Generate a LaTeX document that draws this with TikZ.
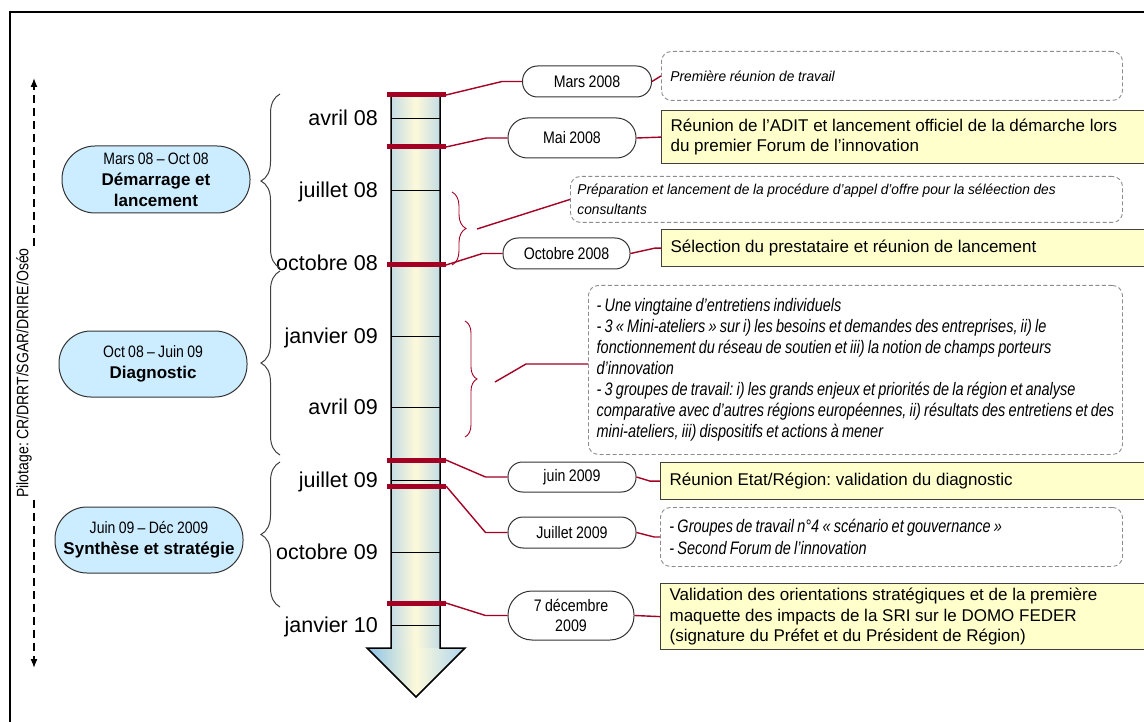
\documentclass[tikz,border=0pt]{standalone}
\usepackage{fontspec}
\setmainfont{Liberation Sans}
\newfontfamily\narrowsans[FakeStretch=0.85, WordSpace=0.85]{Liberation Sans}
\newfontfamily\notesans[FakeStretch=0.96, WordSpace=0.96]{Liberation Sans}
\newfontfamily\listsans[FakeStretch=0.8, WordSpace=0.8]{Liberation Sans}
\usetikzlibrary{calc,decorations.pathreplacing,arrows.meta}
\frenchspacing

\definecolor{phaseblue}{RGB}{204,236,255}
\definecolor{noteyellow}{RGB}{255,255,204}
\definecolor{markred}{RGB}{163,0,35}
\definecolor{shaftedge}{RGB}{196,220,228}
\definecolor{shaftmid}{RGB}{253,249,218}
\definecolor{headedge}{RGB}{138,194,232}
\definecolor{dashgray}{RGB}{140,140,140}

\begin{document}
\begin{tikzpicture}[x=1pt,y=-1pt,
  phase/.style={draw=black!80, line width=1pt, fill=phaseblue, rounded corners=32pt,
    minimum width=188pt, minimum height=66pt, inner sep=0pt, align=center,
    font=\fontsize{17}{21}\selectfont},
  datebox/.style={draw=black!80, line width=1pt, fill=white, inner sep=0pt, align=center,
    minimum width=128pt, font=\narrowsans\fontsize{16.7}{20}\selectfont},
  note/.style={draw=dashgray, dash pattern=on 4pt off 2.5pt, line width=0.9pt,
    rounded corners=10pt, anchor=north west, inner xsep=9pt, inner ysep=0pt, align=flush left,
    font=\notesans\itshape\fontsize{14.3}{20}\selectfont},
  listfont/.style={font=\listsans\itshape\fontsize{18.1}{#1}\selectfont},
  yellowbox/.style={draw=black!75, line width=1.2pt, fill=noteyellow, anchor=north west,
    inner xsep=9pt, inner ysep=0pt, align=flush left, minimum width=520pt, text width=502pt,
    font=\fontsize{17}{20.5}\selectfont},
  month/.style={anchor=base east, inner sep=0pt, font=\fontsize{21.5}{24}\selectfont},
  conn/.style={markred, line width=1.4pt},
  phasebrace/.style={draw=black!75, line width=1pt, decorate,
    decoration={brace, amplitude=19pt}},
  smallbrace/.style={draw=markred, line width=0.9pt, decorate,
    decoration={brace, amplitude=#1}},
  pilotline/.style={line width=1.3pt, dash pattern=on 8pt off 5pt,
    -{Latex[length=9pt,width=7pt]}}
]
\useasboundingbox (0,0) rectangle (1144,722);
\clip (0,0) rectangle (1144,722);

% outer frame
\draw[line width=2pt] (10,12) rectangle (1200,760);

% steering line on the left
\node[rotate=90, inner sep=2pt, font=\narrowsans\fontsize{16.5}{20}\selectfont]
  (pilot) at (24,373) {Pilotage: CR/DRRT/SGAR/DRIRE/Oséo};
\coordinate (ptop) at (34,78);
\coordinate (pbot) at (34,668);
\draw[pilotline] (pilot.south east -| ptop) -- (ptop);
\draw[pilotline] (pilot.south west -| pbot) -- (pbot);

% time arrow
\shade[left color=shaftedge, right color=shaftedge, middle color=shaftmid]
  (391,95) rectangle (440,648);
\shade[left color=headedge, right color=headedge!70!white, middle color=shaftmid]
  (367,648) -- (465,648) -- (416,697) -- cycle;
\draw[line width=1.5pt, line join=miter]
  (391,95) -- (391,648) -- (367,648) -- (416,697) -- (465,648) -- (440,648) -- (440,95) -- cycle;

% month ticks and labels
\foreach \y/\t [count=\i] in {119/avril 08, 191/juillet 08, 263.5/octobre 08,
    336/janvier 09, 407.5/avril 09, 480/juillet 09, 552/octobre 09, 625/janvier 10}{
  \draw[line width=1pt] (391,\y) -- (440,\y);
  \node[month] (m\i) at (378,\y+7) {\t};
}

% event markers
\foreach \y/\n in {95/r1, 147/r2, 265/r3, 460/r4, 486/r5, 603/r6}{
  \draw[markred, line width=5pt] (387,\y) -- (446,\y);
  \coordinate (\n) at (446,\y);
}

% phase braces
\draw[phasebrace] (280,268) -- (280,94);
\draw[phasebrace] (280,455) -- (280,271);
\draw[phasebrace] (280,607) -- (280,462);

% phases
\node[phase, minimum height=67pt, rounded corners=33pt] (p1) at (156,179.5)
  {{\narrowsans\fontsize{16.5}{21}\selectfont Mars 08 – Oct 08}\\\textbf{Démarrage et}\\\textbf{lancement}};
\node[phase] (p2) at (153,364)
  {{\narrowsans\fontsize{16.5}{21}\selectfont Oct 08 – Juin 09}\\\textbf{Diagnostic}};
\node[phase] (p3) at (149,540)
  {{\narrowsans\fontsize{16.5}{21}\selectfont Juin 09 – Déc 2009}\\\textbf{Synthèse et stratégie}};

% dates
\node[datebox, minimum width=129pt, minimum height=31pt, rounded corners=15pt] (d1) at (587,81.5) {Mars 2008};
\node[datebox, minimum height=40pt, rounded corners=19.5pt] (d2) at (572,138) {Mai 2008};
\node[datebox, minimum width=127pt, minimum height=31pt, rounded corners=15pt] (d3) at (566.5,253.5) {Octobre 2008};
\node[datebox, minimum height=30pt, rounded corners=14.5pt] (d4) at (572,477) {juin 2009};
\node[datebox, minimum height=31pt, rounded corners=15pt] (d5) at (572,532.5) {Juillet 2009};
\node[datebox, minimum width=126pt, minimum height=49pt, rounded corners=24pt] (d6) at (571,615.5) {7 décembre\\2009};

% descriptions
\node[note, minimum width=461pt, minimum height=49pt, text width=443pt] (t1) at (661,51)
  {Première réunion de travail};
\node[yellowbox, minimum height=53pt] (y1) at (661,110)
  {Réunion de l’ADIT et lancement officiel de la démarche lors\\du premier Forum de l’innovation};
\node[note, minimum width=552pt, minimum height=46pt, text width=538pt, inner xsep=7pt] (t2) at (570,176)
  {Préparation et lancement de la procédure d’appel d’offre pour la séléection des\\consultants};
\node[yellowbox, minimum height=37pt] (y2) at (661,229)
  {Sélection du prestataire et réunion de lancement};
\node[note, minimum width=534pt, minimum height=169pt, inner xsep=0pt,
  listfont=21] (t3) at (588,285)
  {- Une vingtaine d’entretiens individuels\\
   - 3 « Mini-ateliers » sur i) les besoins et demandes des entreprises, ii) le\\
   fonctionnement du réseau de soutien et iii) la notion de champs porteurs\\
   d’innovation\\
   - 3 groupes de travail: i) les grands enjeux et priorités de la région et analyse\\
   comparative avec d’autres régions européennes, ii) résultats des entretiens et des\\
   mini-ateliers, iii) dispositifs et actions à mener};
\node[yellowbox, minimum height=37pt] (y3) at (660,462)
  {Réunion Etat/Région: validation du diagnostic};
\node[note, minimum width=462pt, minimum height=59pt, text width=444pt,
  listfont=22] (t4) at (660,507)
  {- Groupes de travail n°4 « scénario et gouvernance »\\- Second Forum de l’innovation};
\node[yellowbox, minimum height=66pt] (y4) at (660,583)
  {Validation des orientations stratégiques et de la première\\maquette des impacts de la SRI sur le DOMO FEDER\\(signature du Préfet et du Président de Région)};

% small braces grouping several events
\draw[smallbrace=14pt] (452,192) -- (452,265);
\draw[smallbrace=12pt] (465,321) -- (465,437);
\coordinate (bA) at (477,229);
\coordinate (bB) at (495,382);
\coordinate (kB) at (526,364);

% connectors: markers to dates
\draw[conn] (r1) -- ($(d1.west)+(-20,0)$) -- (d1.west);
\draw[conn] (r2) -- ($(d2.west)+(-21,0)$) -- (d2.west);
\draw[conn] (r3) -- ($(d3.west)+(-20,0)$) -- (d3.west);
\draw[conn] (r4) -- ($(d4.west)+(-22,0)$) -- (d4.west);
\draw[conn] (r5) -- ($(d5.west)+(-22,0)$) -- (d5.west);
\draw[conn] (r6) -- ($(d6.west)+(-22,0)$) -- (d6.west);

% connectors: dates to descriptions
\draw[conn] (d1.east) -- (t1.west);
\draw[conn] (d2.east) -- (y1.west);
\draw[conn] (d3.east) -- ($(y2.west)+(-6,0)$) -- (y2.west);
\draw[conn] (d4.east) -- ($(y3.west)+(-10,0)$) -- (y3.west);
\draw[conn] (d5.east) -- ($(t4.west)+(-6,0)$) -- (t4.west);
\draw[conn] (d6.east) -- (y4.west);

% connectors: braces to descriptions
\draw[conn] (bA) -- (t2.west);
\draw[conn] (bB) -- (kB) -- (kB -| t3.west);
\end{tikzpicture}
\end{document}
